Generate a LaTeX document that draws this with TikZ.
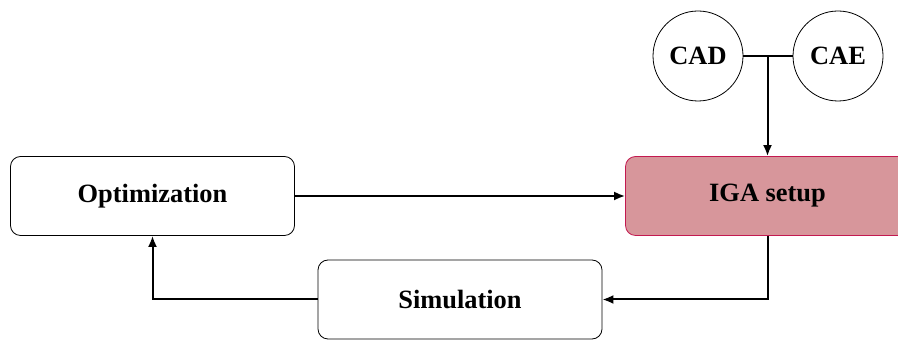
\documentclass[tikz,border=0pt]{standalone}
\usepackage{fontspec}
\setmainfont{Liberation Serif}
\usetikzlibrary{positioning,arrows.meta,calc}
\definecolor{igafill}{RGB}{215,150,155}
\definecolor{igaline}{RGB}{195,25,80}

\begin{document}
\begin{tikzpicture}[x=0.5pt,y=-0.5pt,
  stage/.style={draw,rounded corners=5pt,minimum width=142pt,minimum height=39.5pt,inner sep=0pt,font=\fontsize{13.2}{16}\selectfont\bfseries},
  tool/.style={draw,circle,minimum size=45pt,inner sep=0pt,font=\fontsize{13.2}{16}\selectfont\bfseries},
  flow/.style={-{Latex[length=5.5pt,width=4.5pt]},line width=1pt}]
  \useasboundingbox (0,0) rectangle (898,340);
  \clip (0,0) rectangle (898,340);
  \node [stage] (opt) at (152.5,196) {Optimization};
  \node [stage,fill=igafill,draw=igaline] (iga) at (767.5,196) {IGA setup};
  \node [stage] (sim) at (460,299.5) {Simulation};
  \node [tool] (cad) at (698,56) {CAD};
  \node [tool] (cae) at (838,56) {CAE};
  \coordinate (join) at (767.5,56);
  \draw [line width=1pt] (cad) -- (cae);
  \draw [flow] (join) -- (iga);
  \draw [flow] (opt) -- (iga);
  \draw [flow] (iga.south) |- (sim.east);
  \draw [flow] (sim.west) -| (opt.south);
\end{tikzpicture}
\end{document}
